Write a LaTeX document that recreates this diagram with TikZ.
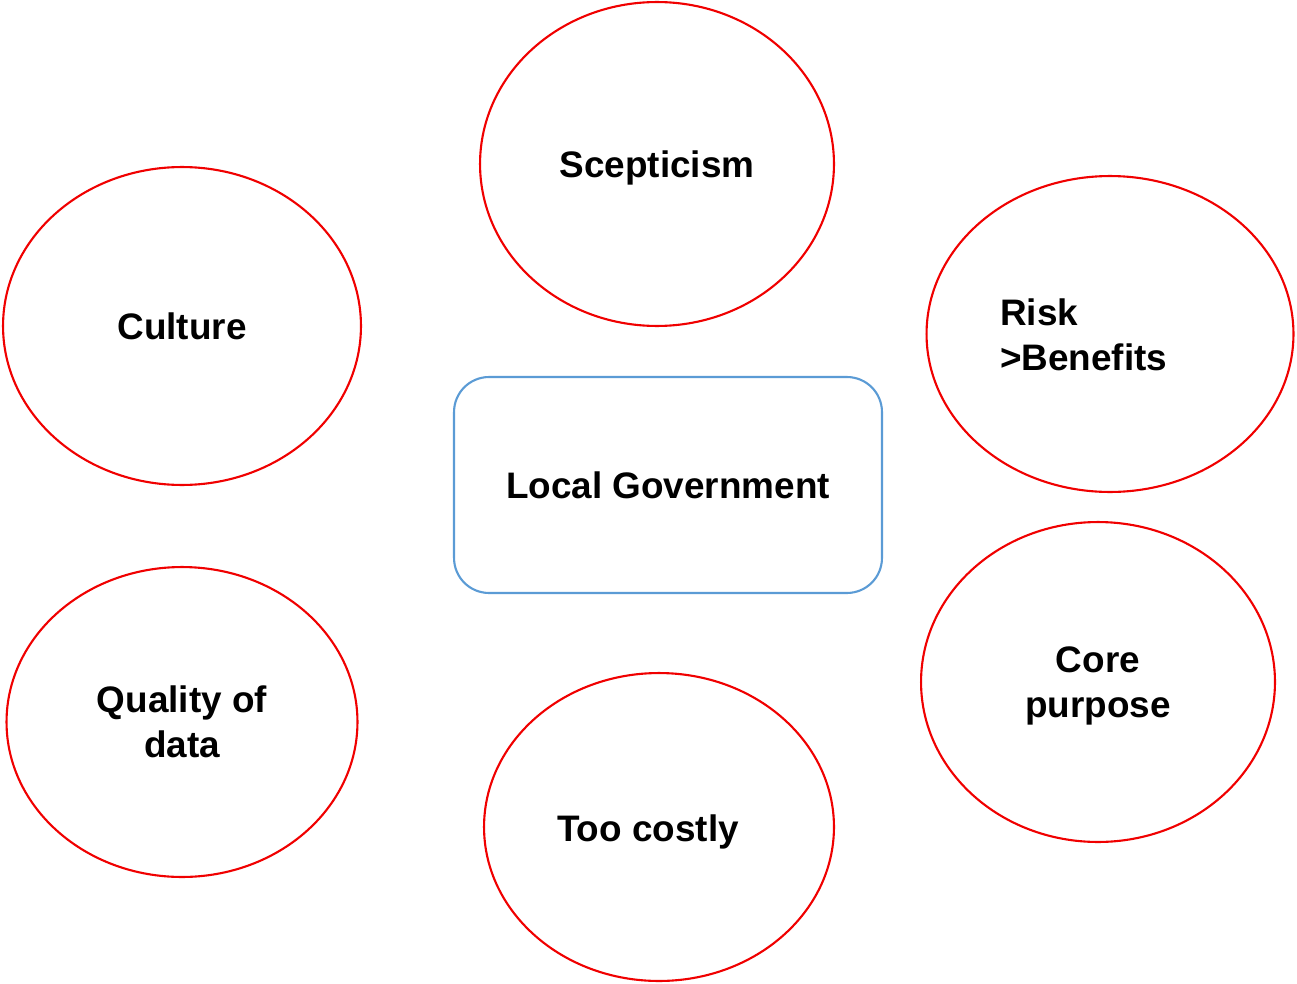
\documentclass[tikz,border=0pt]{standalone}
\usepackage{fontspec}
\setmainfont{Liberation Sans}
\usepackage{tikz}
\usetikzlibrary{shapes.geometric}
\tikzset{every node/.style={align=center}}
\definecolor{ringred}{RGB}{240,0,0}
\definecolor{boxblue}{RGB}{91,155,213}
\tikzset{
  lbl/.style={font=\fontsize{21}{25.6}\selectfont\bfseries},
  ring/.style={ellipse,draw=ringred,line width=1.2pt,inner sep=0pt,text depth=0pt,lbl},
  govbox/.style={draw=boxblue,line width=1.2pt,rounded corners=0.7cm,
    minimum width=8.56cm,minimum height=4.32cm,lbl}
}

\begin{document}
\begin{tikzpicture}[x=0.02cm,y=-0.02cm]
        \useasboundingbox (0,0) rectangle (1297,983);

        % centre box
        \node[govbox] (gov) at (668,485) {Local Government};

        % barriers round it
        \node[ring,minimum width=7.08cm,minimum height=6.48cm] (scep) at (657,164) {Scepticism};
        \node[ring,minimum width=7.16cm,minimum height=6.36cm] (culture) at (182,326) {Culture};
        \node[ring,minimum width=7.34cm,minimum height=6.32cm] (risk) at (1110,334) {};
        \node[ring,minimum width=7.02cm,minimum height=6.20cm] (quality) at (182,722) {Quality of\\data};
        \node[ring,minimum width=7.00cm,minimum height=6.16cm] (costly) at (659,827) {};
        \node[ring,minimum width=7.08cm,minimum height=6.40cm] (core) at (1098,682) {Core\\purpose};

        \node[lbl,anchor=west,align=left] (risktxt) at (994,335) {Risk\\>Benefits};
        \node[lbl] (costlytxt) at (648,832) {Too costly};

    \end{tikzpicture}
\end{document}
